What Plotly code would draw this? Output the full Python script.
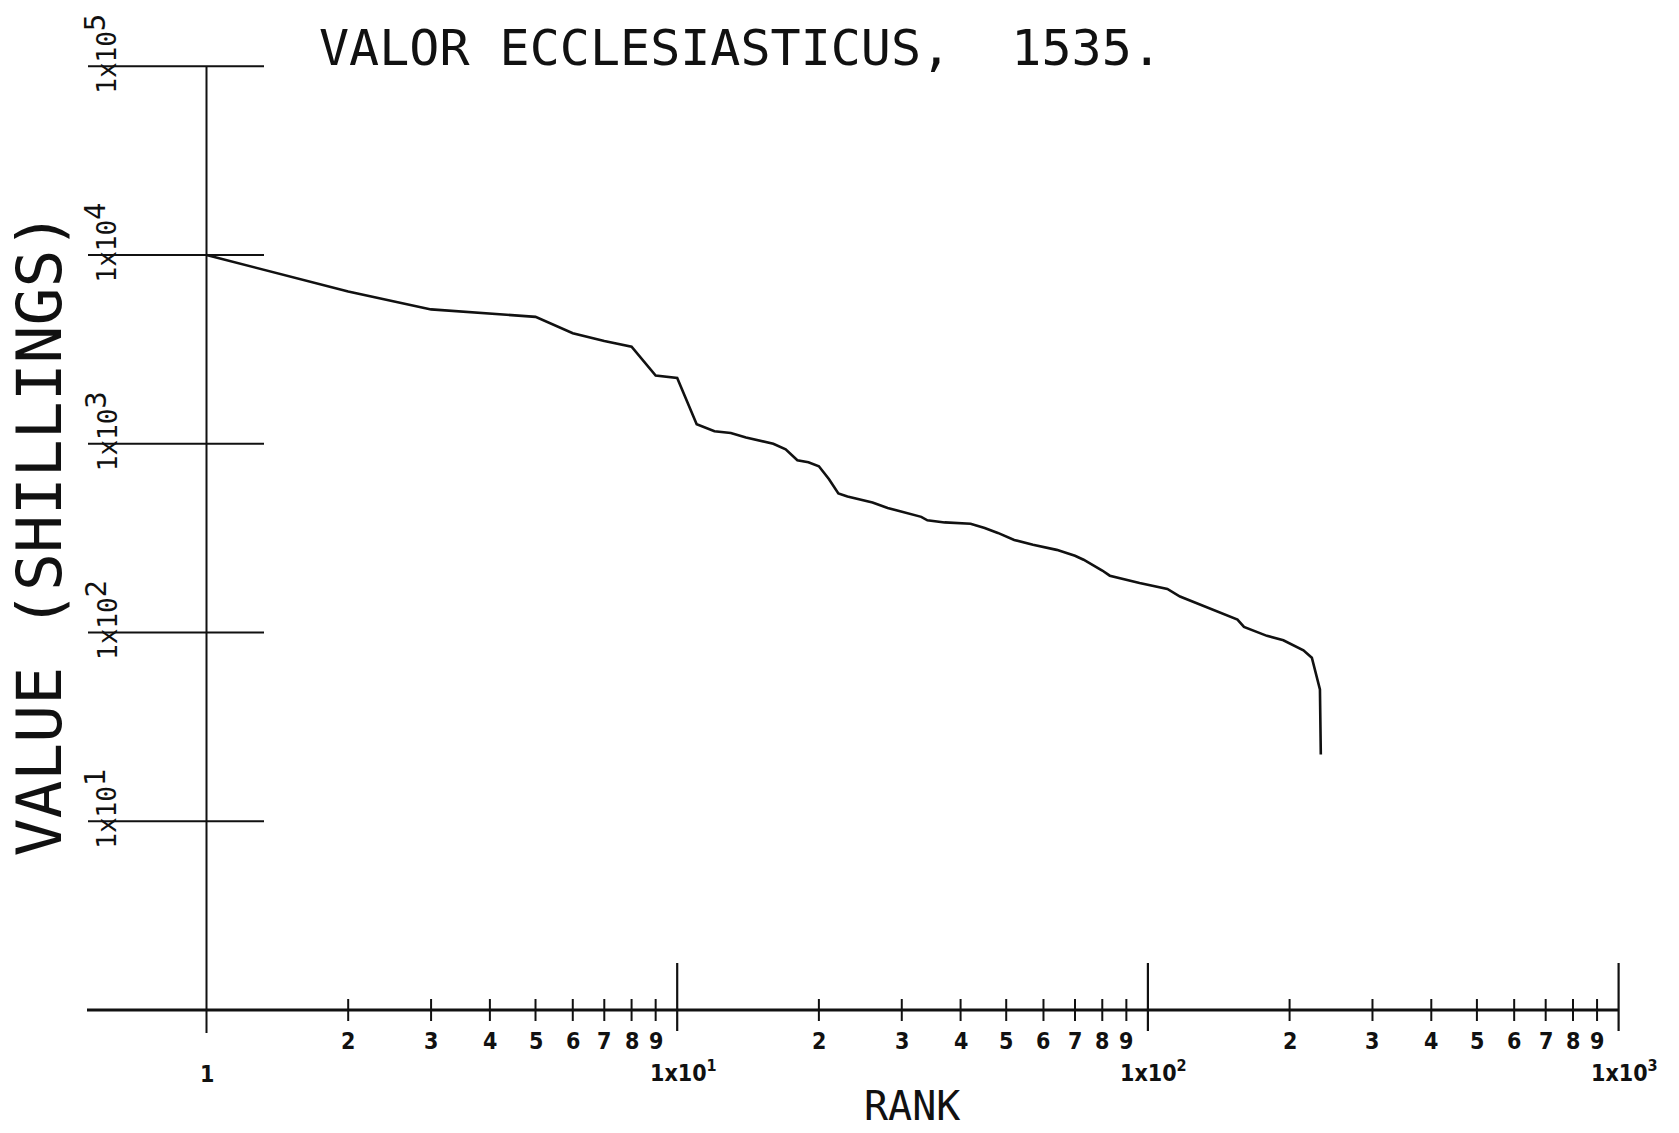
import math
import plotly.graph_objects as go

# ---------------- data ----------------
rank = [1, 2, 3, 4, 5, 6, 7, 8, 9, 10, 11, 12, 13, 14, 16, 17, 18, 19, 20, 21,
        22, 23, 26, 28, 30, 33, 34, 37, 42, 45, 48, 52, 57, 64, 70, 73, 80, 83,
        96, 110, 117, 134, 155, 160, 179, 194, 214, 223, 230, 232, 233]
value = [10000, 6400, 5150, 4900, 4700, 3850, 3500, 3270, 2300, 2230, 1270, 1165,
         1140, 1080, 1000, 935, 818, 798, 760, 650, 545, 525, 488, 457, 435, 410,
         393, 383, 377, 358, 337, 309, 292, 274, 255, 243, 213, 200, 183, 170, 155,
         135, 117, 107, 96, 91, 80.5, 73.5, 54, 50, 22.6]

x_major_exponents = [1, 2, 3]          # 1x10^1 .. 1x10^3
x_minor_digits = [2, 3, 4, 5, 6, 7, 8, 9]
x_decades = [1, 10, 100]
y_major_exponents = [1, 2, 3, 4, 5]    # 1x10^1 .. 1x10^5

title_text = "VALOR ECCLESIASTICUS,\u00a0\u00a01535."
y_title = "VALUE (SHILLINGS)"
x_title = "RANK"

# ---------------- geometry ----------------
W, H = 1663, 1117          # figure size (page has 8px body margin)
OFF = 8
X0_PX, DEC_X = 206.5, 470.7   # reference pixel of rank 1, px per decade
Y0_PX, DEC_Y = 1010.0, 188.75  # reference pixel of value 1, px per decade


def lx(px):
    return (px - X0_PX) / DEC_X


def ly(py):
    return (Y0_PX - py) / DEC_Y


x_range = [lx(OFF), lx(OFF + W)]
y_range = [ly(OFF + H), ly(OFF)]

BLACK = "#111111"
fig = go.Figure()

# curve
fig.add_trace(go.Scatter(x=rank, y=value, mode="lines",
                         line=dict(color=BLACK, width=2.6), hoverinfo="skip"))

# x axis line
fig.add_trace(go.Scatter(x=[10 ** lx(87), 10 ** x_major_exponents[-1]], y=[1, 1],
                         mode="lines", line=dict(color=BLACK, width=2.8), hoverinfo="skip"))
# y axis line
fig.add_trace(go.Scatter(x=[1, 1], y=[10 ** ly(1033), 10 ** y_major_exponents[-1]],
                         mode="lines", line=dict(color=BLACK, width=2), hoverinfo="skip"))

# y major ticks (long, crossing the axis)
tx, ty = [], []
for e in y_major_exponents:
    tx += [10 ** lx(88), 10 ** lx(264), None]
    ty += [10 ** e, 10 ** e, None]
fig.add_trace(go.Scatter(x=tx, y=ty, mode="lines",
                         line=dict(color=BLACK, width=2), hoverinfo="skip"))

# x major ticks
tx, ty = [], []
for e in x_major_exponents:
    tx += [10 ** e, 10 ** e, None]
    ty += [10 ** ly(1031), 10 ** ly(963), None]
fig.add_trace(go.Scatter(x=tx, y=ty, mode="lines",
                         line=dict(color=BLACK, width=2.2), hoverinfo="skip"))

# x minor ticks
tx, ty = [], []
for d0 in x_decades:
    for d in x_minor_digits:
        tx += [d * d0, d * d0, None]
        ty += [10 ** ly(1021), 10 ** ly(999), None]
fig.add_trace(go.Scatter(x=tx, y=ty, mode="lines",
                         line=dict(color=BLACK, width=2), hoverinfo="skip"))

ann = []
TICKFONT = dict(family="Liberation Sans Narrow, DejaVu Sans Condensed, Liberation Sans, sans-serif",
                size=23, color=BLACK, weight="bold")
MONO = "DejaVu Sans Mono, Liberation Mono, monospace"

# x minor tick labels
for d0 in x_decades:
    for d in x_minor_digits:
        ann.append(dict(x=math.log10(d * d0), y=0, xref="x", yref="y", text=str(d),
                        showarrow=False, yshift=-31, font=TICKFONT))
# "1" under rank 1
ann.append(dict(x=0, y=0, xref="x", yref="y", text="1", showarrow=False,
                yshift=-64, font=TICKFONT))
# major x labels
for e in x_major_exponents:
    ann.append(dict(x=e, y=0, xref="x", yref="y", text="1x10<sup>%d</sup>" % e,
                    showarrow=False, yshift=-61, xshift=6, font=TICKFONT))

# y labels (rotated)
for e in y_major_exponents:
    ann.append(dict(x=0, y=e, xref="x", yref="y",
                    text="1x10<sup><span style='font-size:29px'>%d</span></sup>" % e,
                    showarrow=False, textangle=-90, xshift=-106, yshift=12,
                    font=dict(family=MONO, size=26, color=BLACK)))

# title
ann.append(dict(x=lx(740), y=ly(48), xref="x", yref="y", text=title_text,
                showarrow=False, font=dict(family=MONO, size=50, color=BLACK)))
# y title
ann.append(dict(x=lx(38.5), y=ly(534), xref="x", yref="y", text=y_title,
                showarrow=False, textangle=-90,
                font=dict(family=MONO, size=63, color=BLACK)))
# x title
ann.append(dict(x=lx(912), y=ly(1106), xref="x", yref="y", text=x_title,
                showarrow=False, font=dict(family=MONO, size=40, color=BLACK)))

fig.update_layout(
    width=W, height=H, margin=dict(l=0, r=0, t=0, b=0, pad=0),
    paper_bgcolor="white", plot_bgcolor="white", showlegend=False,
    hovermode=False, annotations=ann,
    xaxis=dict(type="log", range=x_range, visible=False, fixedrange=True),
    yaxis=dict(type="log", range=y_range, visible=False, fixedrange=True),
)

fig.write_html("out.html")
